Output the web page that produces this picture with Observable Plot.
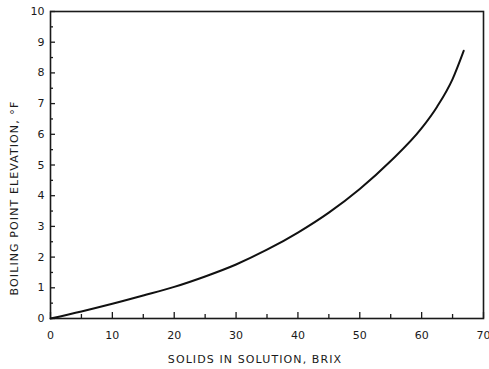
<!DOCTYPE html>
<html>
<head>
<meta charset="utf-8">
<script src="https://cdn.jsdelivr.net/npm/d3@7"></script>
<script src="https://cdn.jsdelivr.net/npm/@observablehq/plot@0.6"></script>
<style>
  html, body { margin: 0; padding: 0; background: #fff; }
  #chart svg { display: block; }
  #chart g[aria-label="text"] text { letter-spacing: 1.1px; }
</style>
</head>
<body>
<div id="chart"></div>
<script>
// Data
const brix = [0, 5, 10, 15, 20, 25, 30, 35, 40, 45, 50, 55, 60, 62.5, 65, 66.8];
const bpe  = [0, 0.23, 0.48, 0.75, 1.03, 1.37, 1.76, 2.24, 2.8, 3.45, 4.22, 5.13, 6.2, 6.9, 7.8, 8.72];
const xMajor = [0, 10, 20, 30, 40, 50, 60, 70];
const xMinor = [5, 15, 25, 35, 45, 55, 65];
const yMajor = [0, 1, 2, 3, 4, 5, 6, 7, 8, 9, 10];
const yMinor = [0.5, 1.5, 2.5, 3.5, 4.5, 5.5, 6.5, 7.5, 8.5, 9.5];
const xTitle = "SOLIDS IN SOLUTION, BRIX";
const yTitle = "BOILING POINT ELEVATION, °F";

const data = brix.map((b, i) => ({brix: b, bpe: bpe[i]}));

const W = 489, H = 369;
const mL = 50, mR = 6, mT = 11, mB = 51;
const fw = W - mL - mR, fh = H - mT - mB;
const ink = "#1a1a1a";

const chart = Plot.plot({
  width: W,
  height: H,
  marginLeft: mL,
  marginRight: mR,
  marginTop: mT,
  marginBottom: mB,
  style: {fontFamily: "DejaVu Sans, sans-serif", fontSize: "11px", color: ink, background: "#fff"},
  x: {domain: [0, 70]},
  y: {domain: [0, 10]},
  marks: [
    Plot.frame({stroke: ink, strokeWidth: 1.6}),
    // inward ticks
    Plot.tickX(xMajor, {x: d => d, stroke: ink, strokeWidth: 1.3, insetTop: fh - 6}),
    Plot.tickX(xMinor, {x: d => d, stroke: ink, strokeWidth: 1.3, insetTop: fh - 4}),
    Plot.tickY(yMajor, {y: d => d, stroke: ink, strokeWidth: 1.3, insetRight: fw - 5}),
    Plot.tickY(yMinor, {y: d => d, stroke: ink, strokeWidth: 1.3, insetRight: fw - 3}),
    Plot.axisX({ticks: xMajor, tickSize: 0, tickPadding: 13, tickFormat: d => String(d), label: null}),
    Plot.axisY({ticks: yMajor, tickSize: 0, tickPadding: 6, tickFormat: d => String(d), label: null}),
    Plot.text([xTitle], {text: d => d, frameAnchor: "bottom", textAnchor: "middle", dx: -12, dy: 44, fill: ink}),
    Plot.text([yTitle], {text: d => d, frameAnchor: "left", textAnchor: "middle", dx: -36, dy: 33, rotate: -90, fill: ink}),
    Plot.line(data, {x: "brix", y: "bpe", stroke: "#111", strokeWidth: 2, curve: "monotone-x"})
  ]
});
document.getElementById("chart").appendChild(chart);
</script>
</body>
</html>
